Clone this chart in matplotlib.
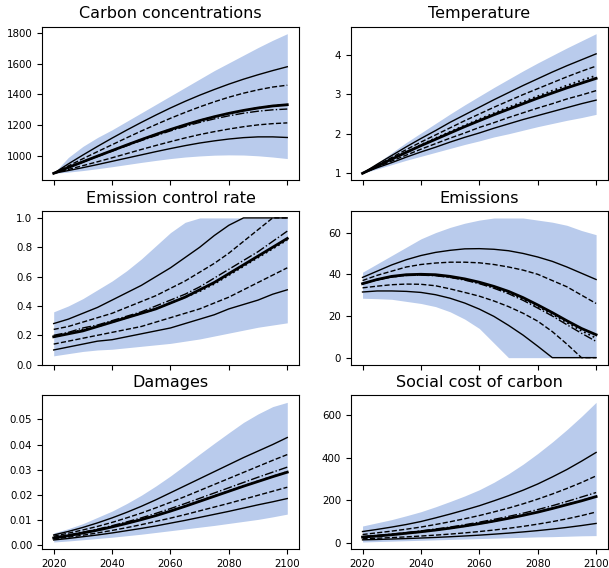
import matplotlib
matplotlib.use("Agg")
import matplotlib.pyplot as plt
import numpy as np

years = [2020, 2025, 2030, 2035, 2040, 2045, 2050, 2055, 2060,
         2065, 2070, 2075, 2080, 2085, 2090, 2095, 2100]

titles = ["Carbon concentrations", "Temperature", "Emission control rate",
          "Emissions", "Damages", "Social cost of carbon"]

# ---- Carbon concentrations ----
carbon_band_lo = [887, 895, 905, 917, 930, 944, 958, 971, 983, 993, 1000, 1005, 1007, 1006, 1001, 993, 983]
carbon_band_hi = [887, 990, 1062, 1120, 1170, 1225, 1280, 1335, 1390, 1445, 1500, 1555, 1605, 1655, 1705, 1752, 1795]
carbon_solid_hi = [887, 948, 1006, 1062, 1116, 1168, 1218, 1266, 1312, 1355, 1395, 1432, 1467, 1499, 1528, 1555, 1580]
carbon_dash_hi = [887, 935, 982, 1028, 1073, 1118, 1162, 1204, 1245, 1283, 1319, 1352, 1382, 1408, 1430, 1448, 1460]
carbon_thick = [887, 925, 962, 999, 1035, 1071, 1106, 1140, 1172, 1202, 1230, 1255, 1277, 1296, 1312, 1325, 1333]
carbon_dashdot = [887, 924, 960, 996, 1031, 1066, 1100, 1132, 1163, 1192, 1218, 1241, 1261, 1278, 1291, 1300, 1305]
carbon_dotted = [887, 925, 962, 999, 1035, 1071, 1106, 1140, 1172, 1202, 1230, 1255, 1277, 1296, 1312, 1325, 1334]
carbon_dash_lo = [887, 912, 937, 962, 988, 1015, 1042, 1068, 1093, 1117, 1139, 1158, 1175, 1190, 1202, 1210, 1215]
carbon_solid_lo = [887, 905, 924, 944, 965, 986, 1007, 1028, 1048, 1067, 1084, 1098, 1110, 1119, 1124, 1124, 1120]

# ---- Temperature ----
temp_band_lo = [1.00, 1.11, 1.22, 1.33, 1.43, 1.53, 1.63, 1.73, 1.82, 1.92, 2.00, 2.09, 2.18, 2.26, 2.34, 2.41, 2.49]
temp_band_hi = [1.00, 1.26, 1.52, 1.78, 2.02, 2.26, 2.50, 2.73, 2.95, 3.17, 3.38, 3.59, 3.79, 3.98, 4.17, 4.35, 4.53]
temp_solid_hi = [1.00, 1.23, 1.45, 1.67, 1.88, 2.08, 2.29, 2.48, 2.67, 2.86, 3.04, 3.22, 3.39, 3.56, 3.72, 3.87, 4.02]
temp_dash_hi = [1.00, 1.20, 1.40, 1.60, 1.79, 1.97, 2.15, 2.33, 2.50, 2.67, 2.83, 2.99, 3.14, 3.29, 3.44, 3.58, 3.71]
temp_thick = [1.00, 1.18, 1.36, 1.53, 1.70, 1.86, 2.02, 2.18, 2.33, 2.48, 2.62, 2.76, 2.90, 3.03, 3.16, 3.28, 3.40]
temp_dashdot = [1.00, 1.18, 1.36, 1.54, 1.70, 1.87, 2.03, 2.18, 2.34, 2.49, 2.63, 2.77, 2.91, 3.04, 3.17, 3.29, 3.41]
temp_dotted = [1.00, 1.19, 1.37, 1.54, 1.72, 1.89, 2.05, 2.21, 2.37, 2.52, 2.67, 2.81, 2.95, 3.09, 3.22, 3.35, 3.47]
temp_dash_lo = [1.00, 1.16, 1.31, 1.46, 1.61, 1.75, 1.89, 2.02, 2.16, 2.28, 2.41, 2.53, 2.65, 2.76, 2.88, 2.98, 3.09]
temp_solid_lo = [1.00, 1.14, 1.27, 1.41, 1.54, 1.66, 1.79, 1.91, 2.02, 2.14, 2.25, 2.36, 2.46, 2.56, 2.66, 2.76, 2.85]

# ---- Emission control rate ----
ecr_band_lo = [0.06, 0.075, 0.09, 0.10, 0.105, 0.115, 0.125, 0.135, 0.145, 0.16, 0.175, 0.195, 0.215, 0.235, 0.255, 0.27, 0.285]
ecr_band_hi = [0.36, 0.40, 0.45, 0.51, 0.57, 0.64, 0.72, 0.81, 0.90, 0.97, 1.0, 1.0, 1.0, 1.0, 1.0, 1.0, 1.0]
ecr_solid_hi = [0.28, 0.31, 0.35, 0.39, 0.44, 0.49, 0.54, 0.60, 0.66, 0.73, 0.80, 0.88, 0.95, 1.0, 1.0, 1.0, 1.0]
ecr_dash_hi = [0.24, 0.26, 0.29, 0.32, 0.35, 0.39, 0.43, 0.47, 0.52, 0.57, 0.63, 0.69, 0.76, 0.84, 0.92, 1.0, 1.0]
ecr_thick = [0.19, 0.21, 0.23, 0.26, 0.29, 0.32, 0.35, 0.38, 0.42, 0.46, 0.51, 0.56, 0.62, 0.68, 0.74, 0.80, 0.86]
ecr_dashdot = [0.20, 0.22, 0.25, 0.27, 0.30, 0.33, 0.36, 0.40, 0.44, 0.48, 0.53, 0.59, 0.65, 0.71, 0.77, 0.84, 0.91]
ecr_dotted = [0.19, 0.21, 0.24, 0.26, 0.29, 0.32, 0.35, 0.38, 0.42, 0.46, 0.50, 0.55, 0.61, 0.67, 0.73, 0.79, 0.85]
ecr_dash_lo = [0.14, 0.16, 0.18, 0.20, 0.22, 0.24, 0.26, 0.29, 0.32, 0.35, 0.38, 0.42, 0.46, 0.51, 0.56, 0.61, 0.66]
ecr_solid_lo = [0.10, 0.12, 0.14, 0.16, 0.17, 0.19, 0.21, 0.23, 0.25, 0.28, 0.31, 0.34, 0.38, 0.41, 0.44, 0.48, 0.51]

# ---- Emissions ----
em_band_lo = [28.5, 28.3, 28.0, 27.0, 26.0, 24.5, 22.0, 18.5, 14.0, 7.0, 0, 0, 0, 0, 0, 0, 0]
em_band_hi = [41, 45, 49, 53, 57, 60, 62.5, 64.5, 66, 67, 67, 67, 66, 65, 63.5, 61, 59]
em_solid_hi = [38.5, 41.5, 44.5, 47, 49, 50.5, 51.5, 52.2, 52.3, 52, 51.3, 50, 48.3, 46.2, 43.5, 40.5, 37.5]
em_dash_hi = [37, 39.5, 41.5, 43.5, 44.7, 45.4, 45.8, 45.8, 45.5, 44.7, 43.5, 42, 40, 37, 34, 30, 26]
em_thick = [35.5, 37.5, 39, 39.8, 40, 39.8, 39, 37.8, 36.2, 34.2, 31.8, 28.8, 25.3, 21.6, 17.7, 14, 11]
em_dashdot = [35.5, 37.3, 38.7, 39.4, 39.6, 39.3, 38.5, 37.2, 35.5, 33.3, 30.7, 27.5, 23.8, 20, 15.8, 11.7, 7.8]
em_dotted = [35.5, 37.4, 38.8, 39.6, 39.8, 39.5, 38.7, 37.5, 35.8, 33.7, 31.2, 28.2, 24.6, 20.8, 16.8, 12.9, 9.4]
em_dash_lo = [33.5, 34.3, 35, 35.3, 35.2, 34.5, 33, 31.3, 29.5, 27.2, 24.5, 21.3, 17.5, 12.5, 6.5, 0, 0]
em_solid_lo = [31.5, 32, 32, 31.8, 31.3, 30.2, 28.5, 26.2, 23.3, 19.8, 15.5, 10.8, 5.5, 0, 0, 0, 0]

# ---- Damages ----
dam_band_lo = [0.0012, 0.0016, 0.0021, 0.0026, 0.0031, 0.0037, 0.0043, 0.0050, 0.0057, 0.0064, 0.0071, 0.0078, 0.0086, 0.0094, 0.0102, 0.0112, 0.0123]
dam_band_hi = [0.0048, 0.0065, 0.0085, 0.0110, 0.0135, 0.0165, 0.0198, 0.0235, 0.0275, 0.0318, 0.0362, 0.0405, 0.0447, 0.0488, 0.0522, 0.0551, 0.0568]
dam_solid_hi = [0.0040, 0.0054, 0.0070, 0.0088, 0.0108, 0.0130, 0.0154, 0.0180, 0.0208, 0.0236, 0.0264, 0.0292, 0.0320, 0.0348, 0.0374, 0.0400, 0.0428]
dam_dash_hi = [0.0035, 0.0047, 0.0060, 0.0074, 0.0090, 0.0108, 0.0127, 0.0148, 0.0170, 0.0193, 0.0217, 0.0241, 0.0265, 0.0289, 0.0313, 0.0337, 0.0360]
dam_thick = [0.0028, 0.0037, 0.0048, 0.0059, 0.0072, 0.0086, 0.0101, 0.0117, 0.0135, 0.0154, 0.0174, 0.0194, 0.0214, 0.0234, 0.0253, 0.0272, 0.0290]
dam_dashdot = [0.0030, 0.0040, 0.0051, 0.0063, 0.0077, 0.0092, 0.0108, 0.0126, 0.0145, 0.0165, 0.0186, 0.0207, 0.0228, 0.0249, 0.0270, 0.0290, 0.0310]
dam_dotted = [0.0028, 0.0037, 0.0048, 0.0060, 0.0073, 0.0087, 0.0102, 0.0118, 0.0136, 0.0155, 0.0175, 0.0195, 0.0215, 0.0235, 0.0254, 0.0273, 0.0291]
dam_dash_lo = [0.0024, 0.0031, 0.0039, 0.0048, 0.0058, 0.0069, 0.0081, 0.0094, 0.0107, 0.0121, 0.0136, 0.0151, 0.0166, 0.0182, 0.0198, 0.0214, 0.0230]
dam_solid_lo = [0.0020, 0.0026, 0.0033, 0.0040, 0.0048, 0.0057, 0.0066, 0.0076, 0.0087, 0.0098, 0.0110, 0.0122, 0.0134, 0.0147, 0.0160, 0.0172, 0.0185]

# ---- Social cost of carbon ----
scc_band_lo = [5, 7, 9, 11, 13, 15, 17, 19, 21, 23, 25, 27, 29, 30, 32, 34, 35]
scc_band_hi = [80, 95, 110, 128, 147, 170, 195, 221, 250, 285, 325, 370, 420, 474, 532, 594, 660]
scc_solid_hi = [54, 64, 75, 87, 101, 118, 136, 155, 175, 198, 222, 248, 277, 310, 345, 384, 425]
scc_dash_hi = [40, 48, 56, 65, 75, 87, 100, 114, 129, 146, 164, 184, 206, 230, 256, 284, 315]
scc_thick = [28, 33, 39, 46, 53, 61, 70, 80, 91, 103, 116, 130, 145, 162, 180, 198, 218]
scc_dashdot = [30, 36, 42, 49, 57, 66, 75, 86, 98, 111, 125, 140, 157, 175, 195, 216, 237]
scc_dotted = [28, 33, 39, 46, 53, 61, 70, 80, 91, 103, 116, 130, 146, 163, 181, 199, 219]
scc_dash_lo = [20, 22.6, 25.6, 29.0, 32.9, 37.2, 42.1, 47.7, 54.0, 61.1, 69.2, 78.3, 88.7, 100.4, 113.6, 128.6, 145.6]
scc_solid_lo = [15, 16.8, 18.8, 21.1, 23.6, 26.4, 29.6, 33.2, 37.1, 41.6, 46.6, 52.2, 58.4, 65.4, 73.3, 82.1, 92]

panels = [
    (carbon_band_lo, carbon_band_hi, carbon_solid_hi, carbon_dash_hi, carbon_thick, carbon_dashdot, carbon_dotted, carbon_dash_lo, carbon_solid_lo),
    (temp_band_lo, temp_band_hi, temp_solid_hi, temp_dash_hi, temp_thick, temp_dashdot, temp_dotted, temp_dash_lo, temp_solid_lo),
    (ecr_band_lo, ecr_band_hi, ecr_solid_hi, ecr_dash_hi, ecr_thick, ecr_dashdot, ecr_dotted, ecr_dash_lo, ecr_solid_lo),
    (em_band_lo, em_band_hi, em_solid_hi, em_dash_hi, em_thick, em_dashdot, em_dotted, em_dash_lo, em_solid_lo),
    (dam_band_lo, dam_band_hi, dam_solid_hi, dam_dash_hi, dam_thick, dam_dashdot, dam_dotted, dam_dash_lo, dam_solid_lo),
    (scc_band_lo, scc_band_hi, scc_solid_hi, scc_dash_hi, scc_thick, scc_dashdot, scc_dotted, scc_dash_lo, scc_solid_lo),
]

band_color = "#b9cbec"

fig, axes = plt.subplots(3, 2, figsize=(6.09, 5.68), dpi=100, sharex=True)
fig.subplots_adjust(left=0.069, right=0.998, top=0.953, bottom=0.0335,
                    wspace=0.202, hspace=0.2)

for ax, title, p in zip(axes.flat, titles, panels):
    lo, hi, s_hi, d_hi, thick, dd, dot, d_lo, s_lo = p
    ax.fill_between(years, lo, hi, color=band_color, linewidth=0)
    ax.plot(years, s_hi, color="black", lw=1.0, ls="-")
    ax.plot(years, s_lo, color="black", lw=1.0, ls="-")
    ax.plot(years, d_hi, color="black", lw=1.0, ls="--")
    ax.plot(years, d_lo, color="black", lw=1.0, ls="--")
    ax.plot(years, dd, color="black", lw=1.0, ls="-.")
    ax.plot(years, dot, color="black", lw=1.3, ls=":")
    ax.plot(years, thick, color="black", lw=2.0, ls="-")
    ax.set_title(title, fontsize=11.5)
    ax.tick_params(labelsize=7.4)

axes[0, 0].set_yticks([1000, 1200, 1400, 1600, 1800])
axes[0, 1].set_yticks([1, 2, 3, 4])
axes[1, 0].set_yticks([0.0, 0.2, 0.4, 0.6, 0.8, 1.0])
axes[1, 1].set_yticks([0, 20, 40, 60])
axes[2, 0].set_yticks([0.00, 0.01, 0.02, 0.03, 0.04, 0.05])
axes[2, 1].set_yticks([0, 200, 400, 600])
axes[2, 0].set_xticks([2020, 2040, 2060, 2080, 2100])

fig.savefig("out.png", dpi=100)
